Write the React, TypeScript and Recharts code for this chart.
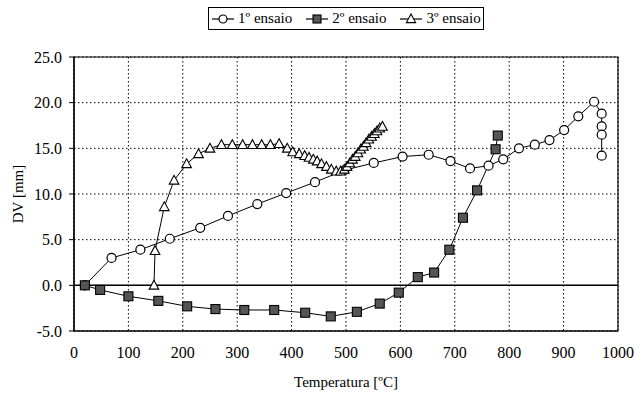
import React from 'react';
import { LineChart, Line, XAxis, YAxis, CartesianGrid, ReferenceLine, ReferenceArea, Label } from 'recharts';

const xTicks = [0, 100, 200, 300, 400, 500, 600, 700, 800, 900, 1000];
const yTicks = [-5, 0, 5, 10, 15, 20, 25];

const seriesNames = ['1º ensaio', '2º ensaio', '3º ensaio'];

const temp1 = [20, 69, 122, 176, 232, 283, 337, 390, 443, 497, 551, 604, 652, 692, 728, 762, 789, 818, 847, 874, 901, 927, 956, 970, 970, 970, 970];
const dv1 = [0, 3.0, 3.9, 5.1, 6.3, 7.6, 8.9, 10.1, 11.3, 12.6, 13.4, 14.1, 14.3, 13.6, 12.8, 13.1, 13.8, 15.0, 15.4, 15.9, 17.0, 18.5, 20.1, 18.8, 17.4, 16.5, 14.2];

const temp2 = [20, 48, 100, 155, 208, 260, 313, 368, 425, 472, 520, 562, 597, 632, 662, 690, 715, 741, 775, 779];
const dv2 = [0, -0.5, -1.2, -1.7, -2.3, -2.6, -2.7, -2.7, -3.0, -3.4, -2.9, -2.0, -0.8, 0.9, 1.4, 3.9, 7.4, 10.4, 14.9, 16.4];

const temp3 = [147, 149, 166, 184, 207, 229, 250, 271, 291, 310, 328, 345, 361, 377, 392, 402, 414, 424, 432, 440, 447, 455, 464, 473, 482, 490, 497, 502, 507, 512, 517, 522, 527, 532, 537, 542, 547, 552, 557, 562, 567];
const dv3 = [0, 3.8, 8.6, 11.5, 13.3, 14.4, 15.0, 15.4, 15.4, 15.4, 15.4, 15.4, 15.4, 15.5, 15.0, 14.6, 14.4, 14.2, 14.0, 13.8, 13.6, 13.3, 13.0, 12.7, 12.5, 12.5, 12.7, 13.0, 13.4, 13.8, 14.1, 14.5, 14.9, 15.2, 15.6, 16.0, 16.3, 16.6, 16.9, 17.2, 17.4];

const toData = (t: number[], v: number[]) => t.map((x, i) => ({ t: x, dv: v[i] }));
const data1 = toData(temp1, dv1);
const data2 = toData(temp2, dv2);
const data3 = toData(temp3, dv3);

const FONT = "Liberation Serif";

const CircleDot = (p: any) => {
  if (p.cx == null || p.cy == null) return null;
  return <circle key={`c-${p.index}`} cx={p.cx} cy={p.cy} r={4.5} fill="#fff" stroke="#000" strokeWidth={1.2} />;
};
const SquareDot = (p: any) => {
  if (p.cx == null || p.cy == null) return null;
  return <rect key={`s-${p.index}`} x={p.cx - 4.5} y={p.cy - 4.5} width={9} height={9} fill="#555" stroke="#000" strokeWidth={1.1} />;
};
const TriDot = (p: any) => {
  if (p.cx == null || p.cy == null) return null;
  const { cx, cy } = p;
  return (
    <polygon
      key={`t-${p.index}`}
      points={`${cx},${cy - 5} ${cx - 4.8},${cy + 3.8} ${cx + 4.8},${cy + 3.8}`}
      fill="#fff"
      stroke="#000"
      strokeWidth={1.1}
    />
  );
};

const YLabel = (props: any) => {
  const vb = props.viewBox || { x: 0, y: 0, width: 0, height: 0 };
  const cx = vb.x + 18;
  const cy = vb.y + vb.height / 2;
  return (
    <text x={cx} y={cy} transform={`rotate(-90, ${cx}, ${cy})`} textAnchor="middle" dominantBaseline="central" fontFamily={FONT} fontSize={15} fill="#000">
      DV [mm]
    </text>
  );
};

const LegendMarker = ({ kind }: { kind: number }) => (
  <svg width={26} height={14} style={{ display: 'block' }}>
    <line x1={2} y1={7} x2={24} y2={7} stroke="#000" strokeWidth={1.2} />
    {kind === 0 && <circle cx={13} cy={7} r={4} fill="#fff" stroke="#000" strokeWidth={1.2} />}
    {kind === 1 && <rect x={9} y={3} width={8} height={8} fill="#555" stroke="#000" strokeWidth={1.1} />}
    {kind === 2 && <polygon points="13,2 8.4,10.6 17.6,10.6" fill="#fff" stroke="#000" strokeWidth={1.1} />}
  </svg>
);

export default function App() {
  return (
    <div style={{ position: 'relative', width: 635, height: 394, background: '#fff', fontFamily: FONT }}>
      <style>{`html,body{margin:0;padding:0;overflow:hidden} .recharts-surface{overflow:visible}`}</style>
      <div
        style={{
          position: 'absolute',
          left: 208,
          top: 7,
          width: 276,
          height: 23,
          border: '1px solid #000',
          display: 'flex',
          alignItems: 'center',
          boxSizing: 'border-box',
          paddingLeft: 1,
          fontFamily: FONT,
          fontSize: 15,
          color: '#000',
          whiteSpace: 'nowrap',
        }}
      >
        {seriesNames.map((n, i) => (
          <div key={n} style={{ display: 'flex', alignItems: 'center', marginRight: i < 2 ? 12 : 0 }}>
            <LegendMarker kind={i} />
            <span style={{ marginLeft: 2 }}>{n}</span>
          </div>
        ))}
      </div>
      <LineChart width={635} height={394} margin={{ top: 57, right: 17, bottom: 0, left: 0 }}>
        <CartesianGrid stroke="#000" strokeDasharray="1.5 2.5" strokeWidth={1} />
        <XAxis
          type="number"
          dataKey="t"
          domain={[0, 1000]}
          ticks={xTicks}
          interval={0}
          height={63}
          tickSize={0}
          tickMargin={16}
          axisLine={{ stroke: '#000', strokeWidth: 1.2 }}
          tick={{ fontSize: 16, fill: '#000', fontFamily: FONT }}
          allowDuplicatedCategory={false}
        >
          <Label value="Temperatura [ºC]" position="insideBottom" offset={7} fontFamily={FONT} fontSize={15} fill="#000" />
        </XAxis>
        <YAxis
          type="number"
          dataKey="dv"
          domain={[-5, 25]}
          ticks={yTicks}
          interval={0}
          width={74}
          tickSize={5}
          tickMargin={7}
          tickFormatter={(v: number) => v.toFixed(1)}
          axisLine={{ stroke: '#000', strokeWidth: 1.2 }}
          tickLine={{ stroke: '#000' }}
          tick={{ fontSize: 16, fill: '#000', fontFamily: FONT }}
        >
          <Label content={YLabel} />
        </YAxis>
        <ReferenceArea x1={0} x2={1000} y1={-5} y2={25} fill="none" stroke="#000" strokeWidth={1.2} ifOverflow="visible" />
        <ReferenceLine y={0} stroke="#000" strokeWidth={1.5} />
        <Line data={data1} dataKey="dv" name={seriesNames[0]} stroke="#000" strokeWidth={1} dot={CircleDot} isAnimationActive={false} type="linear" />
        <Line data={data2} dataKey="dv" name={seriesNames[1]} stroke="#000" strokeWidth={1} dot={SquareDot} isAnimationActive={false} type="linear" />
        <Line data={data3} dataKey="dv" name={seriesNames[2]} stroke="#000" strokeWidth={1} dot={TriDot} isAnimationActive={false} type="linear" />
      </LineChart>
    </div>
  );
}
